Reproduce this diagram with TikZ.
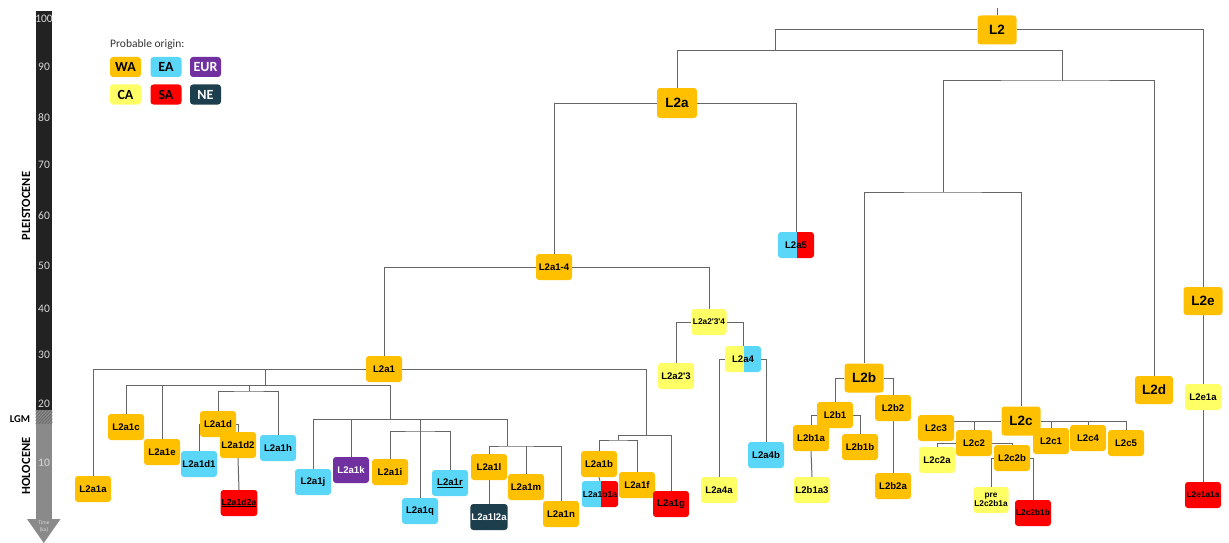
\documentclass[tikz,border=0pt]{standalone}
\usepackage{fontspec}
\newfontfamily\hapfont{Liberation Sans}
\newfontfamily\calfont{Carlito}
\usetikzlibrary{backgrounds}
\definecolor{cWA}{HTML}{FFC000}
\definecolor{cEA}{HTML}{5AD6F8}
\definecolor{cEUR}{HTML}{7030A0}
\definecolor{cCA}{HTML}{FFFF66}
\definecolor{cSA}{HTML}{FF0000}
\definecolor{cNE}{HTML}{1D3E4C}
\definecolor{cLine}{HTML}{666666}
\definecolor{axblack}{HTML}{222222}
\definecolor{axgray}{HTML}{8A8A8A}
\definecolor{axhatch}{HTML}{6A6A6A}
% two-colour boxes: left half / right half
\pgfdeclarehorizontalshading{eaSa}{100bp}{color(0bp)=(cEA); color(50bp)=(cEA); color(50bp)=(cSA); color(100bp)=(cSA)}
\pgfdeclarehorizontalshading{caEa}{100bp}{color(0bp)=(cCA); color(50bp)=(cCA); color(50bp)=(cEA); color(100bp)=(cEA)}
\begin{document}
\begin{tikzpicture}[x=1pt,y=-1pt,
  hap/.style={rounded corners=3pt, minimum width=36pt, minimum height=26pt,
    inner sep=1pt, text=black, font=\hapfont\bfseries\fontsize{9.6}{10.5}\selectfont},
  hsmall/.style={font=\hapfont\bfseries\fontsize{8.3}{9}\selectfont},
  hbig/.style={minimum width=39pt, minimum height=29pt,
    font=\hapfont\bfseries\fontsize{13.5}{14}\selectfont},
  wa/.style={fill=cWA}, ea/.style={fill=cEA}, eur/.style={fill=cEUR, text=white},
  ca/.style={fill=cCA}, sa/.style={fill=cSA}, ne/.style={fill=cNE, text=white},
  link/.style={draw=cLine, line width=1pt},
  legbox/.style={rounded corners=3pt, minimum width=31pt, minimum height=20pt, inner sep=0pt,
    text=black, font=\calfont\bfseries\fontsize{14}{15}\selectfont},
  tick/.style={text=gray!30, font=\calfont\fontsize{11.5}{12}\selectfont, inner sep=0pt},
  era/.style={text=black, font=\calfont\bfseries\fontsize{12.5}{13}\selectfont, inner sep=0pt}
]
\useasboundingbox (0,0) rectangle (1229,543);

% ---------- time axis ----------
\fill[axblack] (35.7,11) rectangle (52.3,410);
\fill[axgray] (35.7,410) rectangle (52.3,424);
\begin{scope}
  \clip (35.7,410) rectangle (52.3,424);
  \foreach \i in {0,3,...,39} \draw[axhatch, line width=0.8pt] (20+\i,428) -- (40+\i,406);
\end{scope}
\fill[axgray] (35.7,424) rectangle (52.3,519);
\fill[axgray] (27,519) -- (60.5,519) -- (43.8,543) -- cycle;
\foreach \v/\y in {100/19, 90/67, 80/118, 70/165, 60/216, 50/266, 40/309, 30/355, 20/404, 10/463}
  \node[tick] (t\v) at (44,\y) {\v};
\node[text=gray!30, font=\calfont\fontsize{5.5}{6.5}\selectfont, align=center, inner sep=0pt]
  (timelab) at (44,526.5) {Time\\(ka)};
\node[era, rotate=90] (pleisto) at (26,206) {PLEISTOCENE};
\node[era, rotate=90] (holo) at (26,466) {HOLOCENE};
\node[era, font=\calfont\bfseries\fontsize{10.5}{11}\selectfont] (lgm) at (20,419) {LGM};

% ---------- legend ----------
\node[anchor=west, inner sep=0pt, text=black!80, font=\calfont\fontsize{11.5}{12}\selectfont]
  (legtitle) at (110,44) {Probable origin:};
\node[legbox, wa] (lWA) at (125.5,67) {WA};
\node[legbox, ea] (lEA) at (166,67) {EA};
\node[legbox, eur, text=white] (lEUR) at (205.5,67) {EUR};
\node[legbox, ca] (lCA) at (125.5,94.5) {CA};
\node[legbox, sa] (lSA) at (166,94.5) {SA};
\node[legbox, ne, text=white] (lNE) at (205.5,94.5) {NE};

% ---------- haplogroups ----------
\node[hap, hbig, wa] (L2) at (997,30) {L2};
\node[hap, hbig, wa, minimum width=40pt, minimum height=30pt] (L2a) at (677,103) {L2a};
\node[hap, shading=eaSa] (L2a5) at (796,245) {L2a5};
\node[hap, wa] (L2a14) at (554,267) {L2a1-4};
\node[hap, wa] (L2a1) at (384,369) {L2a1};
\node[hap, hsmall, ca, minimum width=35pt] (L2a234) at (709,322) {L2a2'3'4};
\node[hap, ca] (L2a23) at (676,376) {L2a2'3};
\node[hap, shading=caEa] (L2a4) at (743,359) {L2a4};
\node[hap, ca] (L2a4a) at (719,490) {L2a4a};
\node[hap, ea] (L2a4b) at (766,455) {L2a4b};

\node[hap, wa] (L2a1a) at (93,489) {L2a1a};
\node[hap, wa] (L2a1c) at (126,427) {L2a1c};
\node[hap, wa] (L2a1e) at (162,452) {L2a1e};
\node[hap, wa] (L2a1d) at (218,424) {L2a1d};
\node[hap, ea] (L2a1d1) at (199,464) {L2a1d1};
\node[hap, wa] (L2a1d2) at (238,445) {L2a1d2};
\node[hap, sa, font=\hapfont\bfseries\fontsize{8.7}{9}\selectfont] (L2a1d2a) at (239,503) {\underline{L2a1d2a}};
\node[hap, ea] (L2a1h) at (278,448) {L2a1h};
\node[hap, ea] (L2a1j) at (313,482) {L2a1j};
\node[hap, eur] (L2a1k) at (351,470) {L2a1k};
\node[hap, wa] (L2a1i) at (390,472) {L2a1i};
\node[hap, ea] (L2a1r) at (450,483) {\underline{L2a1r}};
\node[hap, ea] (L2a1q) at (420,511) {L2a1q};
\node[hap, wa] (L2a1l) at (489,467) {L2a1l};
\node[hap, ne] (L2a1l2a) at (489,517) {L2a1l2a};
\node[hap, wa] (L2a1m) at (526,487) {L2a1m};
\node[hap, wa] (L2a1n) at (561,514) {L2a1n};
\node[hap, wa] (L2a1b) at (599,464) {L2a1b};
\node[hap, shading=eaSa, font=\hapfont\bfseries\fontsize{8.6}{9}\selectfont] (L2a1b1a) at (600,494) {L2a1b1a};
\node[hap, wa] (L2a1f) at (637,485) {L2a1f};
\node[hap, sa] (L2a1g) at (671,504) {L2a1g};

\node[hap, hbig, wa] (L2b) at (864,378) {L2b};
\node[hap, wa] (L2b1) at (835,415) {L2b1};
\node[hap, wa] (L2b1a) at (811,438) {L2b1a};
\node[hap, ca] (L2b1a3) at (812,490) {L2b1a3};
\node[hap, wa] (L2b1b) at (860,447) {L2b1b};
\node[hap, wa] (L2b2) at (893,408) {L2b2};
\node[hap, wa] (L2b2a) at (893,486) {L2b2a};

\node[hap, hbig, wa] (L2c) at (1021,421) {L2c};
\node[hap, wa] (L2c3) at (936,428) {L2c3};
\node[hap, wa] (L2c2) at (974,443) {L2c2};
\node[hap, ca] (L2c2a) at (937,460) {L2c2a};
\node[hap, wa] (L2c2b) at (1012,458) {L2c2b};
\node[hap, hsmall, ca, align=center, minimum width=35pt] (preL2c2b1a) at (991,500) {pre\\L2c2b1a};
\node[hap, hsmall, sa] (L2c2b1b) at (1033,513) {L2c2b1b};
\node[hap, wa] (L2c1) at (1051,441) {L2c1};
\node[hap, wa] (L2c4) at (1088,438) {L2c4};
\node[hap, wa] (L2c5) at (1126,443) {L2c5};

\node[hap, hbig, wa, minimum width=38pt, minimum height=28pt] (L2d) at (1154,390) {L2d};
\node[hap, hbig, wa, minimum height=28pt] (L2e) at (1203,301) {L2e};
\node[hap, ca] (L2e1a) at (1203,397) {L2e1a};
\node[hap, hsmall, sa] (L2e1a1a) at (1203,495) {L2e1a1a};

% ---------- junction points ----------
\coordinate (root) at (997,8);
\coordinate (j1) at (775,51);
\coordinate (j2) at (1062,51);
\coordinate (j3) at (1062,81);
\coordinate (j5) at (943,192);
\coordinate (m1) at (265,369);
\coordinate (m2) at (265,385);
\coordinate (m3) at (390,385);
\coordinate (m4) at (249,385);
\coordinate (m5) at (249,391);
\coordinate (n1) at (390,419);
\coordinate (n2) at (507,419);
\coordinate (n3) at (420,431);
\coordinate (n4) at (507,446);
\coordinate (k1) at (646,435);
\coordinate (k2) at (618,435);
\coordinate (k3) at (618,440);

% ---------- branches ----------
\begin{scope}[on background layer]
  \draw[link] (root) -- (L2.north);
  \draw[link] (L2.west) -| (j1);
  \draw[link] (L2.east) -| (L2e.north);
  \draw[link] (L2a.north) |- (j2) -- (j3);
  \draw[link] (j5) |- (j3) -| (L2d.north);
  \draw[link] (L2b.north) |- (j5) -| (L2c.north);

  \draw[link] (L2a.west) -| (L2a14.north);
  \draw[link] (L2a.east) -| (L2a5.north);
  \draw[link] (L2a14.west) -| (L2a1.north);
  \draw[link] (L2a14.east) -| (L2a234.north);
  \draw[link] (L2a234.west) -| (L2a23.north);
  \draw[link] (L2a234.east) -| (L2a4.north);
  \draw[link] (L2a4.west) -| (L2a4a.north);
  \draw[link] (L2a4.east) -| (L2a4b.north);

  \draw[link] (L2a1.west) -| (L2a1a.north);
  \draw[link] (m1) -- (m2);
  \draw[link] (L2a1c.north) |- (m3) -- (n1);
  \draw[link] (L2a1e.north |- m2) -- (L2a1e.north);
  \draw[link] (m4) -- (m5);
  \draw[link] (L2a1d.north) |- (m5) -| (L2a1h.north);
  \draw[link] (L2a1d.west) -| (L2a1d1.north);
  \draw[link] (L2a1d.east) -| (L2a1d2.north);
  \draw[link] (L2a1d2.south) -- (L2a1d2a.north);

  \draw[link] (L2a1j.north) |- (n2) -- (n4);
  \draw[link] (L2a1k.north |- n1) -- (L2a1k.north);
  \draw[link] (n1 -| L2a1q.north) -- (L2a1q.north);
  \draw[link] (L2a1i.north) |- (n3) -| (L2a1r.north);
  \draw[link] (L2a1l.north) |- (n4) -| (L2a1n.north);
  \draw[link] (L2a1m.north |- n4) -- (L2a1m.north);
  \draw[link] (L2a1l.south) -- (L2a1l2a.north);

  \draw[link] (L2a1.east) -| (k1);
  \draw[link] (k2) -| (L2a1g.north);
  \draw[link] (k2) -- (k3);
  \draw[link] (L2a1b.north) |- (k3) -| (L2a1f.north);
  \draw[link] (L2a1b.south) -- (L2a1b1a.north);

  \draw[link] (L2b.west) -| (L2b1.north);
  \draw[link] (L2b.east) -| (L2b2.north);
  \draw[link] (L2b1.west) -| (L2b1a.north);
  \draw[link] (L2b1.east) -| (L2b1b.north);
  \draw[link] (L2b1a.south) -- (L2b1a3.north);
  \draw[link] (L2b2.south) -- (L2b2a.north);

  \draw[link] (L2c.west) -- (L2c3.east |- L2c.west);
  \draw[link] (L2c.east) -| (L2c5.north);
  \draw[link] (L2c2.north |- L2c.west) -- (L2c2.north);
  \draw[link] (L2c1.north |- L2c.east) -- (L2c1.north);
  \draw[link] (L2c4.north |- L2c.east) -- (L2c4.north);
  \draw[link] (L2c2.west) -| (L2c2a.north);
  \draw[link] (L2c2.east) -| (L2c2b.north);
  \draw[link] (L2c2b.west) -| (preL2c2b1a.north);
  \draw[link] (L2c2b.east) -| (L2c2b1b.north);

  \draw[link] (L2e.south) -- (L2e1a.north);
  \draw[link] (L2e1a.south) -- (L2e1a1a.north);
\end{scope}
\end{tikzpicture}
\end{document}
